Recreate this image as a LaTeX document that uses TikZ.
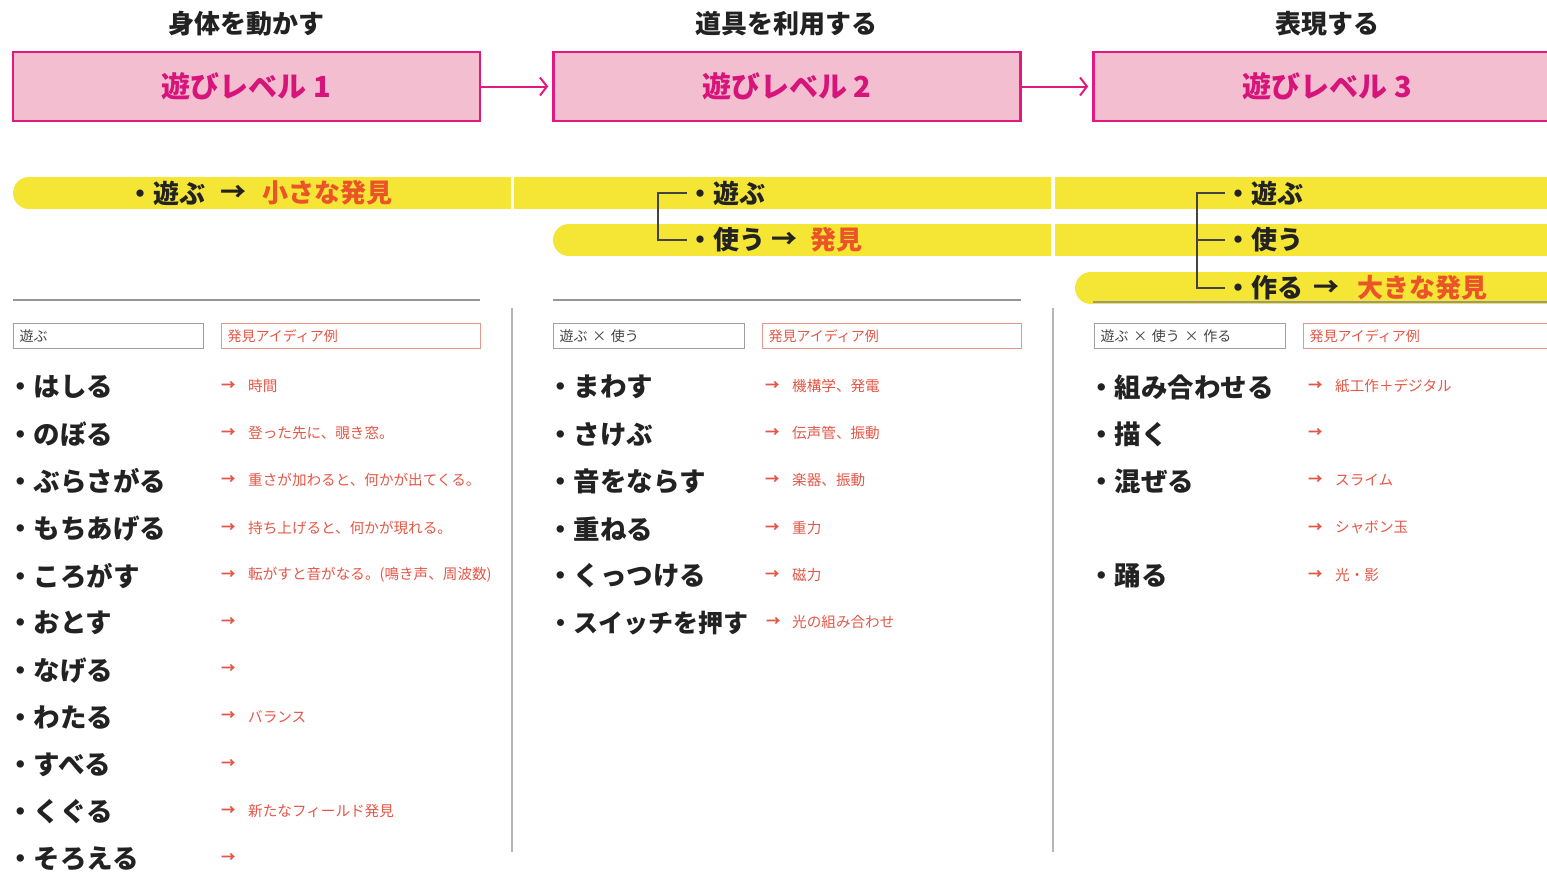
\documentclass[tikz,border=0pt]{standalone}
\usepackage{fontspec}
\setmainfont{Noto Sans CJK JP}
\usetikzlibrary{arrows.meta}
\definecolor{pinkC}{RGB}{243,190,208}
\definecolor{magC}{RGB}{226,26,128}
\definecolor{lvlC}{RGB}{214,20,122}
\definecolor{yelC}{RGB}{245,229,52}
\definecolor{discC}{RGB}{235,84,40}
\definecolor{ideaC}{RGB}{228,86,70}
\definecolor{ideaBox}{RGB}{232,150,140}
\definecolor{lineC}{RGB}{150,150,150}
\definecolor{txtC}{RGB}{34,34,34}
\begin{document}
\begin{tikzpicture}[x=1pt,y=-1pt,
  lvl/.style={draw=magC,line width=2.5pt,fill=pinkC,minimum width=467pt,minimum height=69pt,inner sep=0pt,font=\bfseries\fontsize{29}{30}\selectfont,text=lvlC},
  head/.style={font=\bfseries\fontsize{26}{28}\selectfont,text=txtC,inner sep=0pt},
  larr/.style={draw=magC,line width=2pt,-{Straight Barb[length=7pt,width=18pt,line width=2pt]},shorten >=4pt},
  bartxt/.style={anchor=west,inner sep=0pt,font=\bfseries\fontsize{26}{28}\selectfont,text=txtC},
  brk/.style={draw=txtC!85,line width=1.5pt},
  sep/.style={draw=lineC,line width=1.8pt},
  vsep/.style={draw=lineC!70,line width=1.5pt},
  hbox/.style={draw=gray!75,line width=1.3pt,anchor=west,minimum height=25pt,inner xsep=6pt,inner ysep=0pt,align=left,font=\fontsize{14}{16}\selectfont,text=txtC!85},
  ibox/.style={hbox,draw=ideaBox,text=ideaC},
  item/.style={anchor=west,inner sep=0pt,font=\bfseries\fontsize{26.5}{29}\selectfont,text=txtC},
  iarr/.style={anchor=west,inner sep=0pt,font=\bfseries\fontsize{14.5}{16}\selectfont,text=ideaC},
  idea/.style={anchor=west,inner sep=0pt,font=\fontsize{14.6}{16}\selectfont,text=ideaC}
]
\useasboundingbox (0,0) rectangle (1547,871);
\clip (0,0) rectangle (1547,871);

% headings
\node[head] (h1) at (246,24) {身体を動かす};
\node[head] (h2) at (786,24) {道具を利用する};
\node[head] (h3) at (1327,24) {表現する};

% level boxes
\node[lvl] (L1) at (246.5,86.5) {\raisebox{-2pt}{遊びレベル 1}};
\node[lvl] (L2) at (787,86.5) {\raisebox{-2pt}{遊びレベル 2}};
\node[lvl] (L3) at (1327,86.5) {\raisebox{-2pt}{遊びレベル 3}};
\draw[larr] (L1) -- (L2);
\draw[larr] (L2) -- (L3);

% yellow bars
\fill[yelC] (29,177) rectangle (511,209);
\fill[yelC] (29,193) circle[radius=16];
\fill[yelC] (514,177) rectangle (1051,209);
\fill[yelC] (1055,177) rectangle (1547,209);
\fill[yelC] (569,224) rectangle (1051,256);
\fill[yelC] (569,240) circle[radius=16];
\fill[yelC] (1055,224) rectangle (1547,256);
\fill[yelC] (1091,272) rectangle (1547,304);
\fill[yelC] (1091,288) circle[radius=16];

% bar texts
\node[bartxt] (a1) at (127,193) {・遊ぶ};
\node[bartxt] (a1r) at (220,193) {→};
\node[bartxt,text=discC] (a1d) at (262,193) {小さな発見};

\node[bartxt] (a2a) at (687,193) {・遊ぶ};
\node[bartxt] (a2b) at (687,240) {・使う};
\node[bartxt] (a2r) at (771,240) {→};
\node[bartxt,text=discC] (a2d) at (810,240) {発見};
\coordinate (k2) at (658,217);
\draw[brk] (a2a.west) -| (k2) |- (a2b.west);

\node[bartxt] (a3a) at (1225,193) {・遊ぶ};
\node[bartxt] (a3b) at (1225,240) {・使う};
\node[bartxt] (a3c) at (1225,288) {・作る};
\node[bartxt] (a3r) at (1313,288) {→};
\node[bartxt,text=discC] (a3d) at (1357,288) {大きな発見};
\coordinate (k3) at (1197,240);
\draw[brk] (a3a.west) -| (k3) |- (a3c.west);
\draw[brk] (k3) -- (a3b.west);

% separators
\draw[sep] (13,300) -- (480,300);
\draw[sep] (553,300) -- (1021,300);
\draw[sep] (1093,302) -- (1547,302);
\draw[vsep] (512,308) -- (512,852);
\draw[vsep] (1053,308) -- (1053,852);

% header boxes
\node[hbox,minimum width=190pt,text width=178pt] (hb1) at (13,336) {遊ぶ};
\node[ibox,minimum width=259pt,text width=247pt] (ib1) at (221,336) {発見アイディア例};
\node[hbox,minimum width=191pt,text width=179pt] (hb2) at (553,336) {遊ぶ × 使う};
\node[ibox,minimum width=259pt,text width=247pt] (ib2) at (762,336) {発見アイディア例};
\node[hbox,minimum width=191pt,text width=179pt] (hb3) at (1094,336) {遊ぶ × 使う × 作る};
\node[ibox,minimum width=259pt,text width=247pt] (ib3) at (1303,336) {発見アイディア例};

% column 1
\foreach \w/\t [count=\i] in {はしる/時間,のぼる/登った先に、覗き窓。,ぶらさがる/重さが加わると、何かが出てくる。,もちあげる/持ち上げると、何かが現れる。,ころがす/転がすと音がなる。(鳴き声、周波数),おとす/{},なげる/{},わたる/バランス,すべる/{},くぐる/新たなフィールド発見,そろえる/{}}{
  \node[item] (c1i\i) at (7,{387+(\i-1)*47.2}) {・\w};
  \node[iarr] (c1a\i) at (221,{386+(\i-1)*47.2}) {→};
  \node[idea] (c1t\i) at (248,{386+(\i-1)*47.2}) {\t};
}

% column 2
\foreach \w/\t [count=\i] in {まわす/機構学、発電,さけぶ/伝声管、振動,音をならす/楽器、振動,重ねる/重力,くっつける/磁力}{
  \node[item] (c2i\i) at (547,{387+(\i-1)*47.2}) {・\w};
  \node[iarr] (c2a\i) at (765,{386+(\i-1)*47.2}) {→};
  \node[idea] (c2t\i) at (792,{386+(\i-1)*47.2}) {\t};
}
\node[item,font=\bfseries\fontsize{25}{28}\selectfont] (c2i6) at (548,623) {・スイッチを押す};
\node[iarr] (c2a6) at (766,622) {→};
\node[idea] (c2t6) at (792,622) {光の組み合わせ};

% column 3
\node[item] (c3i1) at (1088,387) {・組み合わせる};
\node[iarr] (c3a1) at (1308,386) {→};
\node[idea] (c3t1) at (1335,386) {紙工作＋デジタル};
\node[item] (c3i2) at (1088,434.2) {・描く};
\node[iarr] (c3a2) at (1308,433.2) {→};
\node[item] (c3i3) at (1088,481.4) {・混ぜる};
\node[iarr] (c3a3) at (1308,480.4) {→};
\node[idea] (c3t3) at (1335,480.4) {スライム};
\node[iarr] (c3a4) at (1308,527.6) {→};
\node[idea] (c3t4) at (1335,527.6) {シャボン玉};
\node[item] (c3i5) at (1088,575.8) {・踊る};
\node[iarr] (c3a5) at (1308,574.8) {→};
\node[idea] (c3t5) at (1335,574.8) {光・影};
\end{tikzpicture}
\end{document}
